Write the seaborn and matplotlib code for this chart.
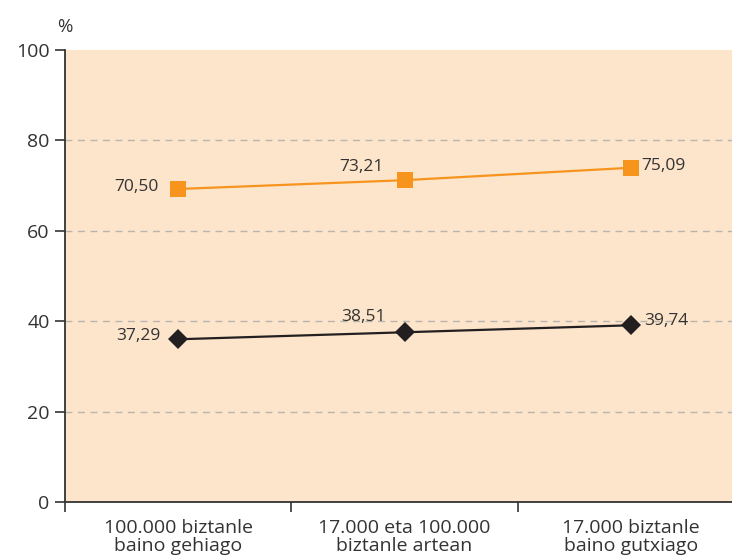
import numpy as np
import pandas as pd
import matplotlib
matplotlib.use('Agg')
import matplotlib.pyplot as plt
import seaborn as sns

# data
categories = ['100.000 biztanle\nbaino gehiago',
              '17.000 eta 100.000\nbiztanle artean',
              '17.000 biztanle\nbaino gutxiago']
orange_vals = [69.25, 71.2, 73.95]
orange_labels = ['70,50', '73,21', '75,09']
black_vals = [36.0, 37.55, 39.1]
black_labels = ['37,29', '38,51', '39,74']
yticks = [0, 20, 40, 60, 80, 100]

sns.set_theme(style='white')
plt.rcParams['font.family'] = ['Open Sans', 'DejaVu Sans']

df = pd.DataFrame({
    'cat': categories * 2,
    'val': orange_vals + black_vals,
    'serie': ['orange'] * 3 + ['black'] * 3,
})

fig = plt.figure(figsize=(7.32, 5.58), dpi=100)
ax = fig.add_axes([65 / 732, 56 / 558, 1 - 65 / 732, 452 / 558])
ax.set_facecolor('#fde5cb')

pal = {'orange': '#f7941d', 'black': '#231f20'}
sns.lineplot(data=df[df.serie == 'orange'], x='cat', y='val', color=pal['orange'],
             marker='s', markersize=11.5, markeredgewidth=0, linewidth=1.6,
             sort=False, ax=ax, zorder=3)
sns.lineplot(data=df[df.serie == 'black'], x='cat', y='val', color=pal['black'],
             marker='D', markersize=10, markeredgewidth=0, linewidth=1.6,
             sort=False, ax=ax, zorder=3)

# value labels (pixel offsets)
o_off = [(-20, 2, 'right'), (-43, 13, 'center'), (10, 2, 'left')]
b_off = [(-18, 3, 'right'), (-41, 15, 'center'), (13, 4, 'left')]
for i in range(3):
    dx, dy, ha = o_off[i]
    ax.annotate(orange_labels[i], (i, orange_vals[i]), xytext=(dx, dy),
                textcoords='offset pixels', ha=ha, va='center',
                fontsize=12.5, color='#333333')
    dx, dy, ha = b_off[i]
    ax.annotate(black_labels[i], (i, black_vals[i]), xytext=(dx, dy),
                textcoords='offset pixels', ha=ha, va='center',
                fontsize=12.5, color='#333333')

ax.set_xlim(-0.5, 2.446)
ax.set_ylim(0, 100)
ax.set_yticks(yticks)
ax.set_yticklabels([str(v) for v in yticks], fontsize=14, color='#333333')
ax.set_xticks([-0.5, 0.5, 1.5])
ax.set_xticklabels([])
ax.set_xticks([0, 1, 2], minor=True)
ax.set_xticklabels(categories, minor=True, fontsize=14, color='#333333',
                   linespacing=1.05)
ax.tick_params(axis='x', which='minor', length=0, pad=12)
ax.tick_params(axis='x', which='major', length=7, width=1.2, color='#333333',
               direction='out', bottom=True)
ax.tick_params(axis='y', length=7, width=1.2, color='#333333', direction='out',
               left=True, pad=4)
ax.set_xlabel('')
ax.set_ylabel('')

for y in yticks[1:-1]:
    ax.axhline(y, color='#b8b4b0', linewidth=1, linestyle=(0, (5, 4)), zorder=1)

for s in ['top', 'right']:
    ax.spines[s].set_visible(False)
for s in ['left', 'bottom']:
    ax.spines[s].set_color('#333333')
    ax.spines[s].set_linewidth(1.3)

fig.text(65 / 732, 1 - 27 / 558, '%', ha='center', va='center', fontsize=13.5,
         color='#333333')

fig.savefig('out.png', dpi=100)
